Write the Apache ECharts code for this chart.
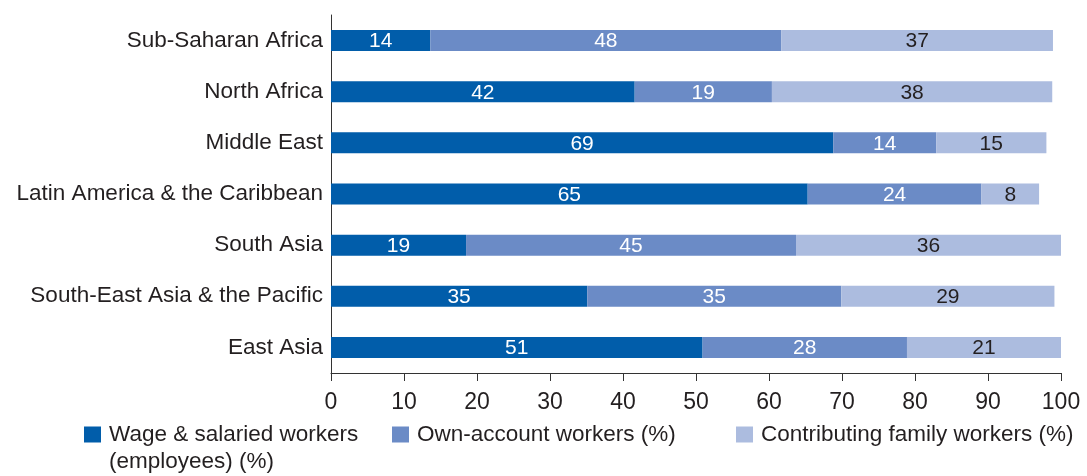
<!DOCTYPE html>
<html>
<head>
<meta charset="utf-8">
<script src="https://cdn.jsdelivr.net/npm/echarts@6/dist/echarts.min.js"></script>
<style>
  html, body { margin: 0; padding: 0; background: #ffffff; }
  #chart { width: 1087px; height: 476px; }
</style>
</head>
<body>
<div id="chart"></div>
<script>
// ---- Data ----
const categories = [
  "Sub-Saharan Africa",
  "North Africa",
  "Middle East",
  "Latin America & the Caribbean",
  "South Asia",
  "South-East Asia & the Pacific",
  "East Asia"
];
const seriesNames = [
  "Wage & salaried workers (employees) (%)",
  "Own-account workers (%)",
  "Contributing family workers (%)"
];
const wageSalaried       = [13.6, 41.6, 68.8, 65.3, 18.5, 35.1, 50.9];
const ownAccount         = [48.1, 18.8, 14.1, 23.8, 45.2, 34.8, 28.0];
const contributingFamily = [37.2, 38.4, 15.1, 7.9, 36.3, 29.2, 21.1];
const xTicks = { min: 0, max: 100, interval: 10 };

// ---- Styles ----
const FONT = '"Liberation Sans", Arial, sans-serif';
const TEXT = '#231f20';
const colors = ['#015daa', '#6b8bc6', '#acbcdf'];
const labelColors = ['#ffffff', '#ffffff', '#231f20'];
const values = [wageSalaried, ownAccount, contributingFamily];

const chart = echarts.init(document.getElementById('chart'), null, { renderer: 'canvas' });

const series = seriesNames.map((name, i) => ({
  name: name,
  type: 'bar',
  stack: 'total',
  data: values[i],
  barWidth: 21,
  itemStyle: { color: colors[i] },
  label: {
    show: true,
    position: 'inside',
    offset: [0, 1],
    color: labelColors[i],
    fontFamily: FONT,
    fontSize: 21,
    formatter: p => Math.round(p.value)
  },
  emphasis: { disabled: true }
}));

const legendText = { fontFamily: FONT, fontSize: 22.5, color: TEXT, lineHeight: 27, padding: [0, 0, 0, 3] };
const legendBase = {
  orient: 'horizontal',
  icon: 'rect',
  itemWidth: 17,
  itemHeight: 16,
  padding: 0,
  selectedMode: false,
  textStyle: legendText
};

const option = {
  animation: false,
  backgroundColor: '#ffffff',
  textStyle: { fontFamily: FONT },
  grid: { left: 331, right: 26, top: 15, bottom: 103, containLabel: false },
  xAxis: {
    type: 'value',
    min: xTicks.min,
    max: xTicks.max,
    interval: xTicks.interval,
    axisLine: { show: true, lineStyle: { color: '#333333', width: 1 } },
    axisTick: { show: true, length: 8, lineStyle: { color: '#333333' } },
    splitLine: { show: false },
    axisLabel: { fontFamily: FONT, fontSize: 23, color: TEXT, margin: 18 }
  },
  yAxis: {
    type: 'category',
    data: categories,
    inverse: true,
    axisLine: { show: true, lineStyle: { color: '#333333', width: 1 } },
    axisTick: { show: false },
    axisLabel: { fontFamily: FONT, fontSize: 22.5, color: TEXT, margin: 8, padding: [4, 0, 0, 0] }
  },
  legend: [
    Object.assign({}, legendBase, {
      left: 84, top: 394,
      data: [seriesNames[0]],
      // leading empty line keeps the first text line level with the marker
      formatter: () => '\nWage & salaried workers\n(employees) (%)'
    }),
    Object.assign({}, legendBase, { left: 392, top: 421, data: [seriesNames[1]] }),
    Object.assign({}, legendBase, { left: 736, top: 421, data: [seriesNames[2]] })
  ],
  series: series
};

chart.setOption(option);
</script>
</body>
</html>
